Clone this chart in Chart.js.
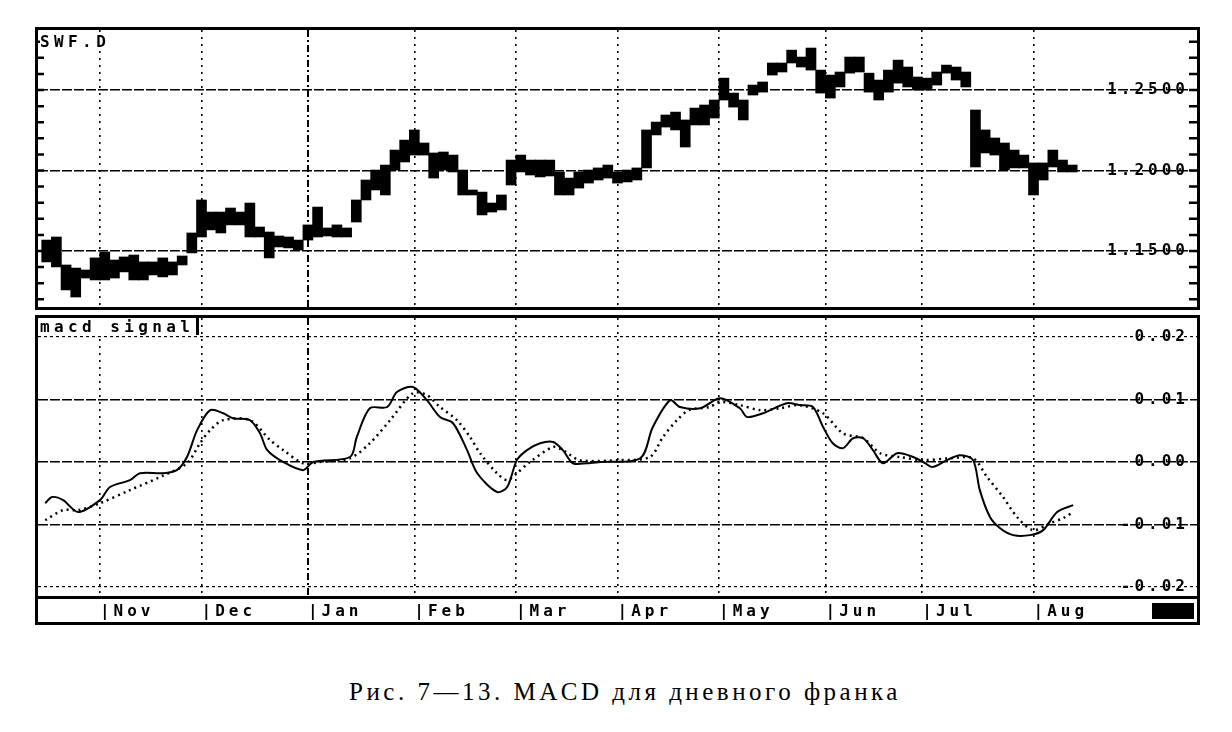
<!DOCTYPE html>
<html>
<head>
<meta charset="utf-8">
<script src="https://cdn.jsdelivr.net/npm/chart.js@4.4.1/dist/chart.umd.min.js"></script>
<style>
  body { margin: 0; background: #fff; width: 1232px; height: 732px; position: relative; overflow: hidden; }
  .frame { position: absolute; left: 35px; border: 3px solid #000; background: #fff; }
  #topFrame { top: 27px; width: 1159px; height: 277px; }
  #botFrame { top: 315px; width: 1159px; height: 304px; }
  canvas { display: block; }
  .tag { position: absolute; left: 2px; font: bold 16px "DejaVu Sans Mono"; letter-spacing: 4.4px;
         line-height: 17px; background: #fff; padding-right: 2px; }
  #swfTag { top: 3px; }
  #macdTag { top: 0; border-right: 3px solid #000; }
  .caption { position: absolute; top: 677px; left: 0; width: 1250px; text-align: center;
             font: 25px "Liberation Serif"; letter-spacing: 3.5px; line-height: 30px; }
  .zoomBox { position: absolute; left: 1152px; top: 603px; width: 42px; height: 16px; background: #000; }
</style>
</head>
<body>
<div class="frame" id="topFrame">
  <canvas id="priceChart" width="1159" height="277"></canvas>
  <div class="tag" id="swfTag">SWF.D</div>
</div>
<div class="frame" id="botFrame">
  <canvas id="macdChart" width="1159" height="304"></canvas>
  <div class="tag" id="macdTag">macd signal</div>
</div>
<div class="zoomBox"></div>
<div class="caption">Рис. 7—13. MACD для дневного франка</div>

<script>
// x axis is in trading days from the left edge
const monthDays = [13, 34, 56, 78, 99, 120, 141, 163, 183, 206];
const monthNames = ["Nov", "Dec", "Jan", "Feb", "Mar", "Apr", "May", "Jun", "Jul", "Aug"];

const priceTicks = [1.15, 1.20, 1.25];
const priceMinorTicks = [1.12, 1.13, 1.14, 1.15, 1.16, 1.17, 1.18, 1.19, 1.20, 1.21, 1.22, 1.23, 1.24, 1.25, 1.26, 1.27, 1.28];
const macdTicks = [-0.02, -0.01, 0, 0.01, 0.02];

// daily price bars (sampled every 2 days)
const barDays = [2, 4, 6, 8, 10, 12, 14, 16, 18, 20, 22, 24, 26, 28, 30, 32, 34, 36, 38, 40,
  42, 44, 46, 48, 50, 52, 54, 56, 58, 60, 62, 64, 66, 68, 70, 72, 74, 76, 78, 80,
  82, 84, 86, 88, 90, 92, 94, 96, 98, 100, 102, 104, 106, 108, 110, 112, 114, 116, 118, 120,
  122, 124, 126, 128, 130, 132, 134, 136, 138, 140, 142, 144, 146, 148, 150, 152, 154, 156, 158, 160,
  162, 164, 166, 168, 170, 172, 174, 176, 178, 180, 182, 184, 186, 188, 190, 192, 194, 196, 198, 200,
  202, 204, 206, 208, 210, 212, 214];
const barHigh = [1.1568, 1.1587, 1.1413, 1.1394, 1.1382, 1.1457, 1.1494, 1.1444, 1.1463, 1.1475,
  1.1432, 1.1432, 1.1457, 1.1432, 1.1469, 1.1612, 1.1817, 1.1742, 1.1742, 1.1767,
  1.1742, 1.1798, 1.1649, 1.1618, 1.1593, 1.1587, 1.1568, 1.1662, 1.1773, 1.1643,
  1.1662, 1.1643, 1.1817, 1.1941, 1.2003, 1.2034, 1.2127, 1.2189, 1.2252, 1.2171,
  1.2109, 1.2115, 1.2096, 1.2003, 1.1879, 1.1866, 1.1798, 1.1848, 1.2065, 1.2096,
  1.2065, 1.2065, 1.2065, 1.1991, 1.1953, 1.1991, 1.2003, 1.2016, 1.2034, 1.1991,
  1.2003, 1.2016, 1.2252, 1.2301, 1.2345, 1.2363, 1.2314, 1.2388, 1.2407, 1.2438,
  1.2574, 1.2481, 1.2438, 1.2531, 1.2550, 1.2668, 1.2668, 1.2748, 1.2705, 1.2761,
  1.2624, 1.2593, 1.2612, 1.2705, 1.2705, 1.2605, 1.2562, 1.2624, 1.2686, 1.2643,
  1.2581, 1.2574, 1.2612, 1.2655, 1.2643, 1.2612, 1.2376, 1.2252, 1.2202, 1.2171,
  1.2127, 1.2096, 1.2047, 1.2047, 1.2127, 1.2065, 1.2034];
const barLow = [1.1432, 1.1401, 1.1258, 1.1214, 1.1332, 1.1320, 1.1320, 1.1332, 1.1370, 1.1320,
  1.1320, 1.1351, 1.1339, 1.1351, 1.1413, 1.1488, 1.1587, 1.1631, 1.1612, 1.1662,
  1.1662, 1.1587, 1.1587, 1.1457, 1.1525, 1.1519, 1.1506, 1.1568, 1.1587, 1.1593,
  1.1587, 1.1587, 1.1680, 1.1817, 1.1879, 1.1848, 1.2003, 1.2053, 1.2096, 1.2096,
  1.1953, 1.2003, 1.1991, 1.1848, 1.1848, 1.1724, 1.1742, 1.1755, 1.1910, 1.1991,
  1.1972, 1.1960, 1.1966, 1.1848, 1.1848, 1.1891, 1.1922, 1.1941, 1.1953, 1.1922,
  1.1929, 1.1941, 1.2016, 1.2221, 1.2270, 1.2252, 1.2146, 1.2283, 1.2283, 1.2326,
  1.2438, 1.2394, 1.2314, 1.2469, 1.2487, 1.2593, 1.2612, 1.2668, 1.2643, 1.2624,
  1.2481, 1.2450, 1.2519, 1.2605, 1.2612, 1.2487, 1.2438, 1.2487, 1.2543, 1.2519,
  1.2500, 1.2500, 1.2531, 1.2605, 1.2562, 1.2519, 1.2022, 1.2109, 1.2096, 1.2003,
  1.2016, 1.2016, 1.1848, 1.1941, 1.2022, 1.1991, 1.1991];

const macdDays = [1.7, 3.1, 5.4, 8.5, 13.0, 15.1, 19.2, 21.3, 26.0, 28.9, 31.0, 33.1, 35.8, 38.5, 40.5,
  44.0, 46.1, 47.6, 50.9, 55.0, 57.1, 64.7, 66.1, 68.8, 72.4, 74.4, 77.7, 80.6, 83.3, 86.0,
  88.9, 91.0, 95.1, 97.2, 99.2, 101.3, 104.0, 106.7, 108.7, 110.8, 113.7, 116.4, 124.7, 127.3, 130.9,
  132.9, 137.1, 141.2, 145.3, 146.8, 150.1, 155.0, 157.7, 160.4, 162.5, 164.5, 166.6, 168.7, 170.8, 172.8,
  174.9, 177.8, 181.1, 183.2, 185.2, 188.1, 190.8, 193.5, 194.9, 197.0, 199.1, 201.8, 205.3, 208.0, 210.9, 214.2];
const macdValues = [-0.0066, -0.0056, -0.0061, -0.0080, -0.0061, -0.0040, -0.0029, -0.0018, -0.0018, -0.0013,
  0.0008, 0.0051, 0.0083, 0.0078, 0.0070, 0.0067, 0.0046, 0.0019, 0.0, -0.0013,
  0.0, 0.0008, 0.0040, 0.0086, 0.0088, 0.0112, 0.0120, 0.0099, 0.0072, 0.0062,
  0.0019, -0.0018, -0.0048, -0.0040, 0.0003, 0.0019, 0.0030, 0.0032, 0.0019, -0.0002,
  -0.0002, 0.0, 0.0006, 0.0056, 0.0099, 0.0088, 0.0086, 0.0102, 0.0086, 0.0072,
  0.0078, 0.0094, 0.0091, 0.0088, 0.0056, 0.0030, 0.0022, 0.0038, 0.0038, 0.0019,
  -0.0002, 0.0014, 0.0008, 0.0, -0.0008, 0.0003, 0.0011, 0.0003, -0.0045, -0.0088,
  -0.0106, -0.0117, -0.0117, -0.0109, -0.0080, -0.0069];

const signalDays = [1.7, 5.4, 8.5, 13.0, 19.2, 26.0, 31.0, 33.7, 35.8, 38.5, 44.0, 48.2, 50.9, 55.0, 58.5,
  64.7, 68.8, 73.0, 77.7, 80.6, 83.3, 86.8, 89.5, 91.6, 95.1, 97.2, 99.2, 101.9, 106.7, 108.7,
  112.2, 120.5, 126.7, 129.4, 132.3, 134.8, 139.0, 141.2, 145.3, 149.5, 153.6, 157.7, 162.5, 166.6, 170.8,
  174.3, 178.4, 183.2, 188.7, 193.5, 196.4, 199.7, 202.6, 205.9, 209.4, 212.1, 214.2];
const signalValues = [-0.0093, -0.0077, -0.0077, -0.0066, -0.0045, -0.0022, -0.0002, 0.0030, 0.0051, 0.0067,
  0.0067, 0.0035, 0.0019, -0.0002, 0.0, 0.0006, 0.0030, 0.0067, 0.0110, 0.0107,
  0.0088, 0.0067, 0.0040, 0.0014, -0.0018, -0.0029, -0.0018, 0.0, 0.0024, 0.0019,
  0.0003, 0.0003, 0.0008, 0.0040, 0.0067, 0.0083, 0.0088, 0.0096, 0.0091, 0.0083,
  0.0086, 0.0091, 0.0078, 0.0046, 0.0038, 0.0014, 0.0008, 0.0003, 0.0006, 0.0006,
  -0.0024, -0.0056, -0.0088, -0.0109, -0.0098, -0.0090, -0.0080];

Chart.defaults.font.family = "DejaVu Sans Mono";
Chart.defaults.font.weight = "bold";
Chart.defaults.font.size = 16;
Chart.defaults.color = "#000";

// wide old-terminal look for axis text
const wideText = {
  id: "wideText",
  beforeDraw(chart) { chart.ctx.letterSpacing = "4px"; }
};

// little tick marks on the inside of both side borders
const edgeTicks = {
  id: "edgeTicks",
  afterDraw(chart, args, opts) {
    if (!opts.values) return;
    const { ctx, chartArea: a } = chart;
    const y = chart.scales.y;
    ctx.save();
    ctx.strokeStyle = "#000";
    ctx.lineWidth = 2.5;
    opts.values.forEach(v => {
      const py = y.getPixelForValue(v);
      ctx.beginPath();
      ctx.moveTo(a.left, py); ctx.lineTo(a.left + 6, py);
      ctx.moveTo(a.right - 8, py); ctx.lineTo(a.right, py);
      ctx.stroke();
    });
    ctx.restore();
  }
};

function noPad(s) {
  s.paddingTop = 0; s.paddingBottom = 0; s.paddingLeft = 0; s.paddingRight = 0;
}

function monthAxis(showLabels) {
  return {
    type: "linear",
    min: 0.2,
    max: 239.8,
    offset: false,
    afterBuildTicks: s => { s.ticks = monthDays.map(v => ({ value: v })); },
    afterFit: s => { s.height = showLabels ? 25 : 0; noPad(s); },
    grid: { offset: false, color: "#000", lineWidth: c => (c.tick && c.tick.value === 56 ? 2 : 1.6), drawTicks: false },
    border: {
      display: showLabels, color: "#000", width: 3,
      dash: c => (c.tick && c.tick.value === 56 ? [7, 3, 2, 3] : [2, 5])
    },
    ticks: {
      display: showLabels, align: "start", padding: 5, maxRotation: 0, autoSkip: false,
      callback: v => "|" + monthNames[monthDays.indexOf(v)]
    }
  };
}

function valueAxis(min, max, ticks, digits, outer) {
  return {
    type: "linear", position: "right", min: min, max: max,
    afterBuildTicks: s => { s.ticks = ticks.map(v => ({ value: v })); },
    afterFit: s => { s.width = 0; noPad(s); },
    grid: { color: "#000", lineWidth: c => (outer(c) ? 1.2 : 1.6), drawTicks: false },
    border: { display: false, dash: c => (outer(c) ? [3, 3] : [10, 2]) },
    ticks: { mirror: true, padding: -8, callback: v => v.toFixed(digits) }
  };
}

new Chart(document.getElementById("priceChart"), {
  type: "bar",
  data: {
    datasets: [{
      data: barDays.map((d, i) => ({ x: d, y: [barLow[i], barHigh[i]] })),
      backgroundColor: "#000",
      borderWidth: 0,
      barThickness: 10
    }]
  },
  options: {
    responsive: false,
    animation: false,
    layout: { padding: 0 },
    plugins: { legend: { display: false }, tooltip: { enabled: false }, edgeTicks: { values: priceMinorTicks } },
    scales: {
      x: monthAxis(false),
      y: valueAxis(1.1152, 1.2873, priceTicks, 4, () => false)
    }
  },
  plugins: [wideText, edgeTicks]
});

new Chart(document.getElementById("macdChart"), {
  type: "line",
  data: {
    datasets: [
      {
        label: "macd",
        data: macdDays.map((d, i) => ({ x: d, y: macdValues[i] })),
        borderColor: "#000", borderWidth: 2, pointRadius: 0, tension: 0.3
      },
      {
        label: "signal",
        data: signalDays.map((d, i) => ({ x: d, y: signalValues[i] })),
        borderColor: "#000", borderWidth: 2.5, borderDash: [2, 4], pointRadius: 0, tension: 0.3
      }
    ]
  },
  options: {
    responsive: false,
    animation: false,
    layout: { padding: 0 },
    plugins: { legend: { display: false }, tooltip: { enabled: false } },
    scales: {
      x: monthAxis(true),
      y: valueAxis(-0.0216, 0.02304, macdTicks, 2, c => c.tick && Math.abs(c.tick.value) > 0.015)
    }
  },
  plugins: [wideText]
});
</script>
</body>
</html>
